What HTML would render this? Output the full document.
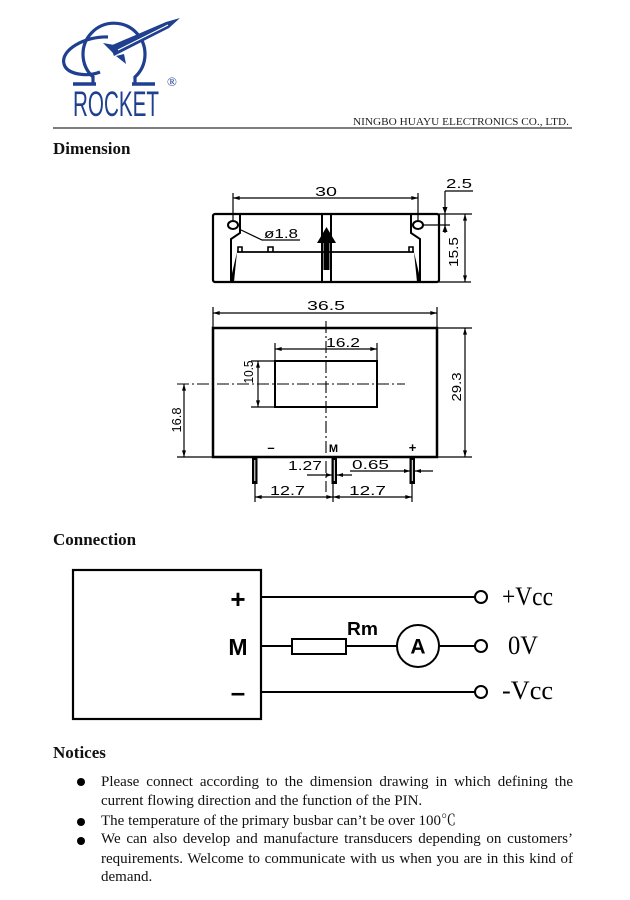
<!DOCTYPE html>
<html><head><meta charset="utf-8">
<style>
html,body{margin:0;padding:0;background:#fff;}
body{width:630px;height:900px;position:relative;overflow:hidden;}
svg{position:absolute;left:0;top:0;}
.n{position:absolute;left:101px;width:472px;font-family:"Liberation Serif","Noto Serif CJK SC","Noto Sans CJK SC",serif;font-size:15px;line-height:15px;color:#111;white-space:nowrap;}
.j{text-align:justify;text-align-last:justify;white-space:normal;}
</style></head><body>
<svg width="630" height="900" viewBox="0 0 630 900">
<defs>
<marker id="a" viewBox="0 0 10 6" refX="10" refY="3" markerWidth="7" markerHeight="4" orient="auto-start-reverse" markerUnits="userSpaceOnUse"><path d="M0,0L10,3L0,6z" fill="#000"/></marker>
</defs>
<rect width="630" height="900" fill="#fff"/>

<!-- Logo -->
<g fill="none" stroke="#1f3f8f" stroke-width="3.2">
<path d="M93,84 V77 A31,31 0 1 1 135,77 V84"/>
<path d="M73,84 H96 M132,84 H155" stroke-width="3.6"/>
<path d="M108,37 C85,36 60,50 64,64 C67,75 88,77 100,72"/>
</g>
<g fill="#1f3f8f">
<polygon points="180,18 166,22 110,46 114,56 169,28"/>
<polygon points="120,46 103,43 113,53"/>
<polygon points="124,54 126,64 116,56"/>
</g>
<path d="M118,50 L168,25" stroke="#fff" stroke-width="1.2"/>
<text x="73" y="116" font-family="Liberation Sans, sans-serif" font-size="35" fill="#1f3f8f" textLength="86" lengthAdjust="spacingAndGlyphs">ROCKET</text>
<text x="167" y="86" font-family="Liberation Serif, serif" font-size="13" fill="#1f3f8f">®</text>

<!-- header -->
<text x="353" y="125" font-family="Liberation Serif, serif" font-size="10.6" fill="#222" textLength="216" lengthAdjust="spacingAndGlyphs">NINGBO HUAYU ELECTRONICS CO., LTD.</text>
<line x1="53" y1="128" x2="572" y2="128" stroke="#555" stroke-width="1.6"/>

<!-- headings -->
<g font-family="Liberation Serif, serif" font-size="17" font-weight="bold" fill="#111">
<text x="53" y="154">Dimension</text>
<text x="53" y="545">Connection</text>
<text x="53" y="758">Notices</text>
</g>

<!-- Top drawing -->
<g stroke="#000" fill="none" stroke-width="1.2">
<line x1="233" y1="193" x2="233" y2="220"/>
<line x1="418" y1="193" x2="418" y2="220"/>
<line x1="233" y1="198" x2="418" y2="198" marker-start="url(#a)" marker-end="url(#a)"/>
<rect x="213" y="214" width="226" height="68" rx="2" stroke-width="2.2"/>
<ellipse cx="233" cy="225" rx="5" ry="4" stroke-width="2"/>
<ellipse cx="418" cy="225" rx="5" ry="4" stroke-width="2"/>
<path d="M240,214 V233 L231,239 V282" stroke-width="2"/>
<path d="M411,214 V233 L420,239 V282" stroke-width="2"/>
<path d="M237,252 H414" stroke-width="1.8"/>
<path d="M238,252 V247 H242 V252 M268,252 V247 H273 V252 M409,252 V247 H413 V252" stroke-width="1.6"/>
<path d="M322,214 V282 M331,214 V282" stroke-width="2"/>
<path d="M239,229 L262,240 H300"/>
<path d="M439,214 H472 M423,225 H450 M445,191 V233 M445,191 H473 M439,282 H471"/>
<line x1="465" y1="214" x2="465" y2="282" marker-start="url(#a)" marker-end="url(#a)"/>
</g>
<g fill="#000">
<polygon points="237,252 230,282 234,282"/>
<polygon points="414,252 421,282 417,282"/>
<polygon points="326.5,227 317,243 336,243"/>
<rect x="323.5" y="242" width="6" height="28"/>
<polygon points="442.5,207 447.5,207 445,214"/>
<polygon points="442.5,232 447.5,232 445,225"/>
</g>
<g font-family="Liberation Sans, sans-serif" font-size="12.5" fill="#000">
<text x="315" y="196" textLength="22" lengthAdjust="spacingAndGlyphs">30</text>
<text x="264" y="238" textLength="34" lengthAdjust="spacingAndGlyphs">ø1.8</text>
<text x="446" y="188" textLength="26" lengthAdjust="spacingAndGlyphs">2.5</text>
<text transform="translate(458,252) rotate(-90)" text-anchor="middle" textLength="30" lengthAdjust="spacingAndGlyphs">15.5</text>
</g>

<!-- Bottom drawing -->
<g stroke="#000" fill="none" stroke-width="1.2">
<path d="M213,307 V328 M437,307 V328"/>
<line x1="213" y1="313" x2="437" y2="313" marker-start="url(#a)" marker-end="url(#a)"/>
<rect x="213" y="328" width="224" height="129" stroke-width="2.5"/>
<rect x="275" y="361" width="102" height="46" stroke-width="2"/>
<path d="M275,343 V361 M377,343 V361"/>
<line x1="275" y1="349" x2="377" y2="349" marker-start="url(#a)" marker-end="url(#a)"/>
<path d="M251,361 H275 M251,407 H275"/>
<line x1="258" y1="361" x2="258" y2="407" marker-start="url(#a)" marker-end="url(#a)"/>
<path d="M177,384 H405 M326,321 V492" stroke-dasharray="12 3 2 3" stroke-width="1.1"/>
<path d="M177,457 H213"/>
<line x1="184" y1="384" x2="184" y2="457" marker-start="url(#a)" marker-end="url(#a)"/>
<path d="M437,328 H472 M437,457 H472"/>
<line x1="465" y1="328" x2="465" y2="457" marker-start="url(#a)" marker-end="url(#a)"/>
<path d="M307,475 H352 M350,471 H433"/>
<path d="M255,483 V502 M333,483 V502 M412,483 V502"/>
<line x1="255" y1="497" x2="333" y2="497" marker-start="url(#a)" marker-end="url(#a)"/>
<line x1="333" y1="497" x2="412" y2="497" marker-start="url(#a)" marker-end="url(#a)"/>
</g>
<g fill="#000">
<rect x="252" y="457" width="5.5" height="27"/>
<rect x="331.5" y="457" width="5.5" height="27"/>
<rect x="409.5" y="457" width="5.5" height="27"/>
<polygon points="326,473 332,475 326,477"/>
<polygon points="343,473 337,475 343,477"/>
<polygon points="404,469 410,471 404,473"/>
<polygon points="421,469 415,471 421,473"/>
</g>
<g stroke="#fff" stroke-width="1">
<path d="M254.8,460 V481 M334.3,460 V481 M412.3,460 V481"/>
</g>
<g font-family="Liberation Sans, sans-serif" font-size="12.5" fill="#000">
<text x="307" y="310" textLength="38" lengthAdjust="spacingAndGlyphs">36.5</text>
<text x="326" y="347" textLength="34" lengthAdjust="spacingAndGlyphs">16.2</text>
<text transform="translate(253,372) rotate(-90)" text-anchor="middle" textLength="23" lengthAdjust="spacingAndGlyphs">10.5</text>
<text transform="translate(181,420) rotate(-90)" text-anchor="middle" textLength="25" lengthAdjust="spacingAndGlyphs">16.8</text>
<text transform="translate(461,387) rotate(-90)" text-anchor="middle" textLength="29" lengthAdjust="spacingAndGlyphs">29.3</text>
<text x="288" y="470" textLength="34" lengthAdjust="spacingAndGlyphs">1.27</text>
<text x="352" y="469" textLength="37" lengthAdjust="spacingAndGlyphs">0.65</text>
<text x="270" y="495" textLength="35" lengthAdjust="spacingAndGlyphs">12.7</text>
<text x="349" y="495" textLength="37" lengthAdjust="spacingAndGlyphs">12.7</text>
</g>
<g font-family="Liberation Sans, sans-serif" font-weight="bold" fill="#000" text-anchor="middle">
<text x="271" y="452" font-size="13">–</text>
<text x="333.5" y="452" font-size="11">M</text>
<text x="412.5" y="452" font-size="13">+</text>
</g>

<!-- Connection -->
<g stroke="#000" fill="none" stroke-width="2">
<rect x="73" y="570" width="188" height="149" stroke-width="2.2"/>
<path d="M261,597 H475 M261,646 H292 M346,646 H397 M439,646 H475 M261,692 H475"/>
<rect x="292" y="639" width="54" height="15"/>
<circle cx="418" cy="646" r="21"/>
<circle cx="481" cy="597" r="6"/>
<circle cx="481" cy="646" r="6"/>
<circle cx="481" cy="692" r="6"/>
</g>
<g font-family="Liberation Sans, sans-serif" font-weight="bold" fill="#000">
<text x="238" y="608" font-size="26" text-anchor="middle">+</text>
<text x="238" y="655" font-size="23" text-anchor="middle">M</text>
<text x="238" y="701" font-size="26" text-anchor="middle">–</text>
<text x="347" y="635" font-size="18" textLength="31" lengthAdjust="spacingAndGlyphs">Rm</text>
<text x="418" y="653.5" font-size="21" text-anchor="middle">A</text>
</g>
<g font-family="Liberation Serif, serif" font-size="26" fill="#000">
<text x="502" y="605" textLength="51" lengthAdjust="spacingAndGlyphs">+Vcc</text>
<text x="508" y="654" textLength="30" lengthAdjust="spacingAndGlyphs">0V</text>
<text x="502" y="699" textLength="51" lengthAdjust="spacingAndGlyphs">-Vcc</text>
</g>

<!-- bullets -->
<g fill="#000">
<circle cx="81" cy="782" r="4"/>
<circle cx="81" cy="822" r="4"/>
<circle cx="81" cy="841" r="4"/>
</g>
</svg>

<div class="n j" style="top:775.4px">Please connect according to the dimension drawing in which defining the</div>
<div class="n" style="top:794.4px">current flowing direction and the function of the PIN.</div>
<div class="n" style="top:814.4px">The temperature of the primary busbar can’t be over 100℃</div>
<div class="n j" style="top:832.4px">We can also develop and manufacture transducers depending on customers’</div>
<div class="n j" style="top:852.4px">requirements. Welcome to communicate with us when you are in this kind of</div>
<div class="n" style="top:870.4px">demand.</div>
</body></html>
